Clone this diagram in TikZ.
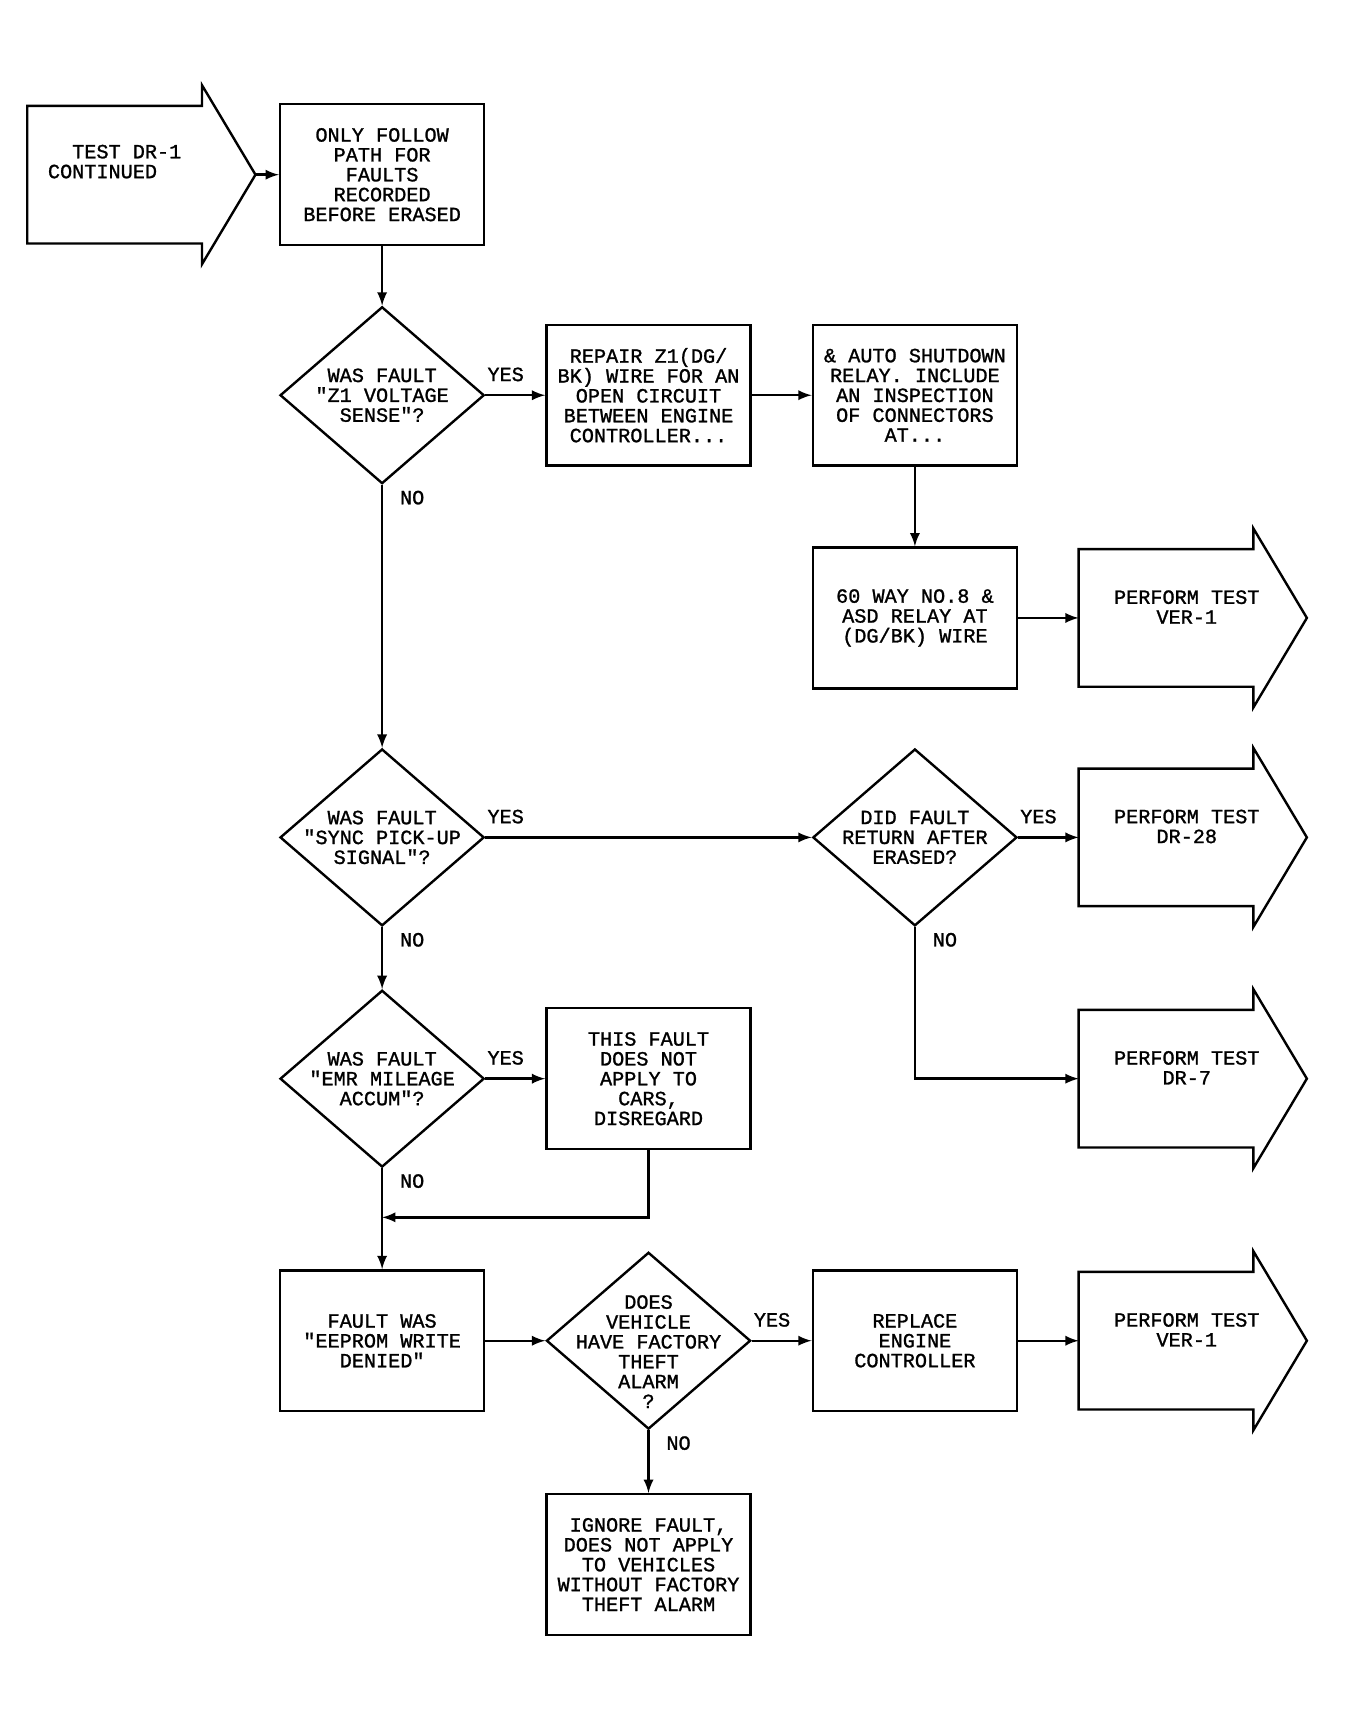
\documentclass[tikz,border=0pt]{standalone}
\usepackage{fontspec}
\newfontfamily\plotter{Liberation Mono}[FakeBold=1.2]
\usepackage{tikz}
\usetikzlibrary{shapes.geometric}
\usetikzlibrary{arrows}

\tikzset{
	task/.style={draw, line width=1.1pt, minimum width=93.5pt, minimum height=64.5pt, inner sep=0pt, align=center},
	query/.style={draw, diamond, line width=1.1pt, minimum width=93.5pt, minimum height=81pt, inner sep=0pt},
	banner/.style={minimum width=80pt, minimum height=63pt, inner sep=0pt, outer sep=0pt},
	flow/.style={-latex, line width=1.1pt},
	answer/.style={inner sep=0pt},
}

\begin{document}
\begin{tikzpicture}[x=0.5pt, y=-0.5pt, font=\plotter\fontsize{9.25pt}{9.1pt}\selectfont]
	\useasboundingbox (0,0) rectangle (1237,1569);
	
	% entry and exit arrows
	\node[banner, label={[yshift=6pt, align=left]center:{\hphantom{XX}TEST DR-1\\CONTINUED}}] (dr1) at (105,160) {};
	\node[banner, label={[xshift=9.5pt, yshift=5pt, align=center]center:{PERFORM TEST\\VER-1}}] (ver1) at (1068,566) {};
	\node[banner, label={[xshift=9.5pt, yshift=5pt, align=center]center:{PERFORM TEST\\DR-28}}] (dr28) at (1068,767) {};
	\node[banner, label={[xshift=9.5pt, yshift=5pt, align=center]center:{PERFORM TEST\\DR-7}}] (dr7) at (1068,988) {};
	\node[banner, label={[xshift=9.5pt, yshift=5pt, align=center]center:{PERFORM TEST\\VER-1}}] (ver1b) at (1068,1228) {};
	\foreach \a in {dr1, ver1, dr28, dr7, ver1b}
		\draw[line width=1.1pt] (\a.south west) -- (\a.north west) -- (\a.north east) -- ([yshift=9.5pt]\a.north east)
			-- ([xshift=24.5pt]\a.east) -- ([yshift=-9.5pt]\a.south east) -- (\a.south east) -- cycle;
	\coordinate (dr1tip) at ([xshift=24.5pt]dr1.east);
	
	% boxes
	\node[task] (follow) at (350,160) {ONLY FOLLOW\\PATH FOR\\FAULTS\\RECORDED\\BEFORE ERASED};
	\node[task] (repair) at (594,362) {REPAIR Z1(DG/\\BK) WIRE FOR AN\\OPEN CIRCUIT\\BETWEEN ENGINE\\CONTROLLER...};
	\node[task] (shutdown) at (838,362) {\& AUTO SHUTDOWN\\RELAY. INCLUDE\\AN INSPECTION\\OF CONNECTORS\\AT...};
	\node[task] (wayno) at (838,566) {60 WAY NO.8 \&\\ASD RELAY AT\\(DG/BK) WIRE};
	\node[task] (cars) at (594,988) {THIS FAULT\\DOES NOT\\APPLY TO\\CARS,\\DISREGARD};
	\node[task] (eeprom) at (350,1228) {FAULT WAS\\"EEPROM WRITE\\DENIED"};
	\node[task] (replace) at (838,1228) {REPLACE\\ENGINE\\CONTROLLER};
	\node[task] (ignore) at (594,1433) {IGNORE FAULT,\\DOES NOT APPLY\\TO VEHICLES\\WITHOUT FACTORY\\THEFT ALARM};
	
	% decisions
	\node[query, label={[align=center]center:{WAS FAULT\\"Z1 VOLTAGE\\SENSE"?}}] (qvolt) at (350,362) {};
	\node[query, label={[align=center]center:{WAS FAULT\\"SYNC PICK-UP\\SIGNAL"?}}] (qsync) at (350,767) {};
	\node[query, label={[align=center]center:{DID FAULT\\RETURN AFTER\\ERASED?}}] (qreturn) at (838,767) {};
	\node[query, label={[align=center]center:{WAS FAULT\\"EMR MILEAGE\\ACCUM"?}}] (qemr) at (350,988) {};
	\node[query, label={[yshift=-5pt, align=center]center:{DOES\\VEHICLE\\HAVE FACTORY\\THEFT\\ALARM\\?}}] (qtheft) at (594,1228) {};
	\coordinate (merge) at (350,1115);
	
	% connectors
	\draw[flow] (dr1tip) -- (follow.west);
	\draw[flow] (follow.south) -- (qvolt.north);
	\draw[flow] (qvolt.east) -- (repair.west);
	\draw[flow] (repair.east) -- (shutdown.west);
	\draw[flow] (shutdown.south) -- (wayno.north);
	\draw[flow] (wayno.east) -- (ver1.west);
	\draw[flow] (qvolt.south) -- (qsync.north);
	\draw[flow] (qsync.east) -- (qreturn.west);
	\draw[flow] (qreturn.east) -- (dr28.west);
	\draw[flow] (qreturn.south) |- (dr7.west);
	\draw[flow] (qsync.south) -- (qemr.north);
	\draw[flow] (qemr.east) -- (cars.west);
	\draw[flow] (cars.south) |- (merge);
	\draw[flow] (qemr.south) -- (eeprom.north);
	\draw[flow] (eeprom.east) -- (qtheft.west);
	\draw[flow] (qtheft.east) -- (replace.west);
	\draw[flow] (replace.east) -- (ver1b.west);
	\draw[flow] (qtheft.south) -- (ignore.north);
	
	% answers
	\node[answer, anchor=south west] (yes1) at ([xshift=0.75pt, yshift=6.2pt]qvolt.east) {YES};
	\node[answer, anchor=north west] (no1) at ([xshift=8pt, yshift=-2.5pt]qvolt.south) {NO};
	\node[answer, anchor=south west] (yes2) at ([xshift=0.75pt, yshift=6.2pt]qsync.east) {YES};
	\node[answer, anchor=north west] (no2) at ([xshift=8pt, yshift=-2.5pt]qsync.south) {NO};
	\node[answer, anchor=south west] (yes3) at ([xshift=0.75pt, yshift=6.2pt]qreturn.east) {YES};
	\node[answer, anchor=north west] (no3) at ([xshift=8pt, yshift=-2.5pt]qreturn.south) {NO};
	\node[answer, anchor=south west] (yes4) at ([xshift=0.75pt, yshift=6.2pt]qemr.east) {YES};
	\node[answer, anchor=north west] (no4) at ([xshift=8pt, yshift=-2.5pt]qemr.south) {NO};
	\node[answer, anchor=south west] (yes5) at ([xshift=0.75pt, yshift=6.2pt]qtheft.east) {YES};
	\node[answer, anchor=north west] (no5) at ([xshift=8pt, yshift=-2.5pt]qtheft.south) {NO};
\end{tikzpicture}
\end{document}
